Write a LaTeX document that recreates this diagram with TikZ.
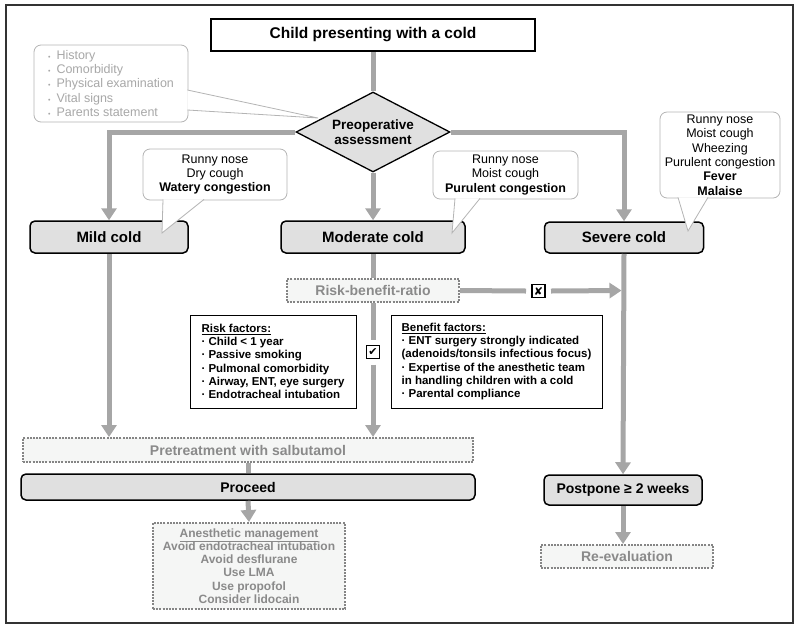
\documentclass[tikz,border=0pt]{standalone}
\usepackage{fontspec}
\setmainfont{Liberation Sans}
\newfontfamily\boxsymfont{DejaVu Sans}
\usepackage{xcolor}
\usetikzlibrary{arrows.meta,shapes.geometric}
\definecolor{linegray}{HTML}{A6A6A6}
\definecolor{boxgray}{HTML}{E0E0E0}
\definecolor{dotgray}{HTML}{858585}
\definecolor{dotfill}{HTML}{F5F6F5}
\definecolor{softtext}{HTML}{8A8A8A}
\definecolor{balloongray}{HTML}{B4B4B4}
\definecolor{histtext}{HTML}{A8A8A8}
\tikzset{
  framebox/.style={rectangle,draw=black,line width=2.2pt,fill=white,
    minimum width=324pt,minimum height=32pt,
    font=\fontsize{15.5}{18}\selectfont\bfseries},
  decisionnode/.style={diamond,aspect=2,draw=black,line width=1.3pt,
    fill=boxgray,inner sep=1pt,minimum width=154pt,minimum height=80pt,
    align=center,font=\fontsize{13.5}{15}\selectfont\bfseries},
  levelnode/.style={rectangle,rounded corners=5pt,draw=black,line width=1.5pt,
    fill=boxgray,minimum height=32pt,font=\fontsize{15}{18}\selectfont\bfseries},
  actionnode/.style={levelnode,font=\fontsize{14}{17}\selectfont\bfseries},
  noteballoon/.style={rectangle,rounded corners=7pt,draw=balloongray,
    line width=0.8pt,fill=white,align=center,inner sep=2pt,
    font=\fontsize{12.5}{14.4}\selectfont},
  softbox/.style={rectangle,draw=dotgray,line width=2pt,
    dash pattern=on 2pt off 1.2pt,fill=dotfill,text=softtext,inner sep=2pt,
    font=\fontsize{14}{13.3}\selectfont\bfseries},
  factorbox/.style={rectangle,draw=black,line width=1pt,fill=white,
    align=left,inner sep=2pt,font=\fontsize{11.5}{13.3}\selectfont\bfseries},
  marknode/.style={rectangle,draw=black,line width=1.1pt,fill=white,
    minimum size=13pt,inner sep=0pt,outer sep=6pt,
    font=\boxsymfont\fontsize{11}{11}\selectfont},
  flowline/.style={line width=5pt,draw=linegray},
  flowarrow/.style={flowline,-{Triangle[width=15pt,length=12pt]}},
  tailline/.style={draw=balloongray,line width=0.8pt,line join=miter}
}

\begin{document}
\begin{tikzpicture}[x=1pt,y=-1pt]
  \newcommand{\balloontail}[3]{%
    \fill[white] (#1) -- (#2) -- (#3) -- cycle;
    \draw[tailline] (#1) -- (#2) -- (#3);}

  \useasboundingbox (0,0) rectangle (800,630);
  \draw[line width=1.4pt,black!80] (6,5) rectangle (793,623);

  % start and assessment
  \node[framebox] (child) at (373,35) {Child presenting with a cold};
  \node[decisionnode] (assess) at (373,132) {Preoperative\\assessment};

  % grades of the cold
  \node[levelnode,minimum width=158pt] (mild) at (109,237) {Mild cold};
  \node[levelnode,minimum width=184pt] (moderate) at (373,237) {Moderate cold};
  \node[levelnode,minimum width=159pt,minimum height=31pt] (severe) at (624,237.5) {Severe cold};

  % risk-benefit part
  \node[softbox,minimum width=172pt,minimum height=23pt] (ratio) at (373,290.5) {Risk-benefit-ratio};
  \node[marknode] (cross) at (538.5,291) {✘};
  \node[marknode] (check) at (373,352) {✔};
  \node[factorbox,minimum width=166pt,minimum height=93pt] (risk) at (273,361.5)
    {\underline{Risk factors:}\\
     · Child < 1 year\\
     · Passive smoking\\
     · Pulmonal comorbidity\\
     · Airway, ENT, eye surgery\\
     · Endotracheal intubation};
  \node[factorbox,minimum width=211pt,minimum height=93pt] (benefit) at (496.5,361.5)
    {\underline{Benefit factors:}\\
     · ENT surgery strongly indicated\\
     (adenoids/tonsils infectious focus)\\
     · Expertise of the anesthetic team\\
     in handling children with a cold\\
     · Parental compliance};

  % outcome
  \node[softbox,minimum width=450pt,minimum height=24pt] (salbu) at (248,450) {Pretreatment with salbutamol};
  \node[actionnode,minimum width=454pt,minimum height=26pt] (proceed) at (248,487) {Proceed};
  \node[softbox,align=center,minimum width=192pt,minimum height=86pt,
    font=\fontsize{12}{13.3}\selectfont\bfseries] (manage) at (249,566)
    {\underline{Anesthetic management}\\
     Avoid endotracheal intubation\\
     Avoid desflurane\\
     Use LMA\\
     Use propofol\\
     Consider lidocain};
  \node[actionnode,minimum width=158pt,minimum height=30pt] (postpone) at (623,490) {Postpone ≥ 2 weeks};
  \node[softbox,minimum width=172pt,minimum height=23pt] (reeval) at (627,556.5) {Re-evaluation};

  % connectors
  \coordinate (sevjoin) at (severe.south |- ratio.east);
  \draw[flowline] (child.south) -- (assess.north);
  \draw[flowarrow] (assess.west) -| (mild.north);
  \draw[flowarrow] (assess.east) -| (severe.north);
  \draw[flowarrow] (assess.south) -- (moderate.north);
  \draw[flowline] (moderate.south) -- (ratio.north);
  \draw[flowline] (ratio.east) -- (cross.west);
  \draw[flowarrow,shorten >=2.5pt] (cross.east) -- (sevjoin);
  \draw[flowline] (ratio.south) -- (check.north);
  \draw[flowarrow] (check.south) -- (check.south |- salbu.north);
  \draw[flowarrow] (mild.south) -- (mild.south |- salbu.north);
  \draw[flowline] (salbu.south) -- (proceed.north);
  \draw[flowarrow] (proceed.south) -- (manage.north);
  \draw[flowarrow] (severe.south) -- (postpone.north);
  \draw[flowarrow] (postpone.south) -- (postpone.south |- reeval.north);

  % balloons
  \node[noteballoon,text=histtext,align=left,minimum width=154pt,minimum height=77pt] (history) at (111,83.5)
    {{\scriptsize\textbullet}\hspace{6pt}History\\
     {\scriptsize\textbullet}\hspace{6pt}Comorbidity\\
     {\scriptsize\textbullet}\hspace{6pt}Physical examination\\
     {\scriptsize\textbullet}\hspace{6pt}Vital signs\\
     {\scriptsize\textbullet}\hspace{6pt}Parents statement};
  \balloontail{187.4,90}{318,118}{187.4,110}
  \node[noteballoon,minimum width=144pt,minimum height=51pt] (mildnote) at (215,174.5)
    {Runny nose\\Dry cough\\\textbf{Watery congestion}};
  \balloontail{163,199.4}{162,233}{204,199.4}
  \node[noteballoon,minimum width=145pt,minimum height=48pt] (modnote) at (505.5,175)
    {Runny nose\\Moist cough\\\textbf{Purulent congestion}};
  \balloontail{455,198.4}{452,233}{480,198.4}
  \node[noteballoon,minimum width=120pt,minimum height=86pt] (sevnote) at (720,155)
    {Runny nose\\Moist cough\\Wheezing\\Purulent congestion\\\textbf{Fever}\\\textbf{Malaise}};
  \balloontail{678,197.4}{688,231}{708,197.4}
\end{tikzpicture}
\end{document}
